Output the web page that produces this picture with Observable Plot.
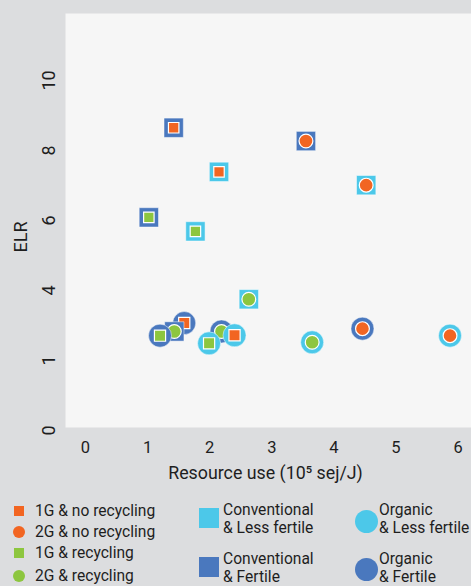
<!DOCTYPE html>
<html><head><meta charset="utf-8">
<script src="https://cdn.jsdelivr.net/npm/d3@7"></script>
<script src="https://cdn.jsdelivr.net/npm/@observablehq/plot@0.6"></script>
<style>
body{margin:0;background:#dcdddf;font-family:Roboto,sans-serif;color:#222;}
#wrap{position:relative;width:471px;height:586px;overflow:hidden;background:#dcdddf;}
#chart svg{display:block;}
.sw{position:absolute;box-sizing:border-box;}
.lt{position:absolute;font-size:15.6px;line-height:18px;white-space:nowrap;color:#1e1e1e;}
</style></head><body>
<div id="wrap"><div id="chart"></div><div id="legend"></div></div>
<script>
// ---- data ----
const farming = ["Conventional","Conventional","Conventional","Conventional","Conventional","Conventional","Conventional","Organic","Conventional","Organic","Organic","Organic","Organic","Organic","Organic","Organic"];
const fertility = ["Fertile","Fertile","Less fertile","Less fertile","Fertile","Less fertile","Less fertile","Fertile","Fertile","Fertile","Fertile","Less fertile","Less fertile","Less fertile","Fertile","Less fertile"];
const generation = ["1G","2G","1G","2G","1G","1G","2G","1G","2G","1G","2G","1G","1G","2G","2G","2G"];
const recycling = ["no recycling","no recycling","no recycling","no recycling","recycling","recycling","recycling","no recycling","recycling","recycling","recycling","recycling","no recycling","recycling","no recycling","no recycling"];
const resourceUse = [1.42, 3.55, 2.15, 4.52, 1.02, 1.77, 2.63, 1.59, 1.43, 1.20, 2.19, 1.99, 2.40, 3.65, 4.46, 5.87];
const elr = [8.65, 8.27, 7.39, 7.01, 6.09, 5.69, 3.75, 3.07, 2.83, 2.71, 2.83, 2.49, 2.72, 2.52, 2.91, 2.71];

const xTicks = [0,1,2,3,4,5,6];
const yTicks = [0,2,4,6,8,10];
const yTickLabels = ["0","1","4","6","8","10"];
const xTitle = "Resource use (10⁵ sej/J)";
const yTitle = "ELR";

const colorKeys = ["Less fertile","Fertile","no recycling","recycling"];
const colorRange = ["#4cc8e9","#4a78be","#f26522","#8dc63f"];

const scenarioLabels = ["1G & no recycling","2G & no recycling","1G & recycling","2G & recycling"];
const systemLabels = [["Conventional","& Less fertile"],["Organic","& Less fertile"],["Conventional","& Fertile"],["Organic","& Fertile"]];

// ---- chart ----
const idx = d3.range(resourceUse.length);
const pointMarks = idx.flatMap(i => [
  Plot.dot([i], {
    x: j => resourceUse[j], y: j => elr[j],
    symbol: j => farming[j],
    fill: j => fertility[j],
    r: j => farming[j] === "Conventional" ? 10.9 : 11.5,
    stroke: "white", strokeWidth: 0.6, strokeOpacity: 0.8
  }),
  Plot.dot([i], {
    x: j => resourceUse[j], y: j => elr[j],
    symbol: j => generation[j],
    fill: j => recycling[j],
    r: j => generation[j] === "1G" ? (farming[j] === "Organic" ? 6.3 : 5.9) : 6.9,
    stroke: "white", strokeWidth: 1.2
  })
]);

const chart = Plot.plot({
  width: 471, height: 490,
  marginTop: 13, marginBottom: 63, marginLeft: 65, marginRight: 0,
  style: {background: "transparent", fontFamily: "Roboto, sans-serif", color: "#1e1e1e"},
  x: {domain: [0, 6], range: [85, 457.6]},
  y: {domain: [0, 12], range: [430, 10]},
  color: {domain: colorKeys, range: colorRange},
  symbol: {domain: ["Conventional","Organic","1G","2G"], range: ["square","circle","square","circle"]},
  r: {type: "identity"},
  marks: [
    Plot.frame({fill: "#f6f6f6", stroke: null}),
    Plot.axisX({ticks: xTicks, tickFormat: d => String(d), tickSize: 0, tickPadding: 14, fontSize: 16.5, label: null}),
    Plot.axisY({ticks: yTicks, tickFormat: d => yTickLabels[yTicks.indexOf(d)], tickSize: 0, tickPadding: 16,
      rotate: -90, textAnchor: "middle", fontSize: 18, label: null}),
    Plot.text([xTitle], {text: d => d, frameAnchor: "bottom", dy: 51, dx: -3, fontSize: 17.8}),
    Plot.text([yTitle], {text: d => d, frameAnchor: "left", dx: -44, dy: 32, rotate: -90, fontSize: 18}),
    ...pointMarks
  ]
});
document.getElementById("chart").appendChild(chart);

// ---- legend (HTML below the SVG) ----
const lg = document.getElementById("legend");
function add(el){ lg.appendChild(el); }
function sw(left, top, w, h, color, round){
  const d = document.createElement("div"); d.className = "sw";
  Object.assign(d.style, {left: left+"px", top: top+"px", width: w+"px", height: h+"px", background: color, borderRadius: round ? "50%" : "0"});
  add(d);
}
function txt(left, top, lines){
  const d = document.createElement("div"); d.className = "lt";
  d.style.left = left+"px"; d.style.top = top+"px";
  d.innerHTML = lines.map(s => s.replace(/&/g,"&amp;")).join("<br>");
  add(d);
}
const scenColors = [colorRange[2], colorRange[2], colorRange[3], colorRange[3]];
const scenRound = [false, true, false, true];
const scenY = [511, 532, 553, 576];
scenarioLabels.forEach((s, i) => {
  const sz = scenRound[i] ? 12 : 10;
  sw(19 - sz/2, scenY[i] - sz/2, sz, sz, scenColors[i], scenRound[i]);
  txt(35, scenY[i] - 9, [s]);
});
// systems
sw(199, 508, 20, 20, colorRange[0], false);
txt(223, 501, systemLabels[0]);
sw(199, 557, 20, 20, colorRange[1], false);
txt(223, 550, systemLabels[2]);
sw(354.5, 509.5, 23, 23, colorRange[0], true);
txt(379, 501, systemLabels[1]);
sw(354.5, 557.5, 23, 23, colorRange[1], true);
txt(379, 550, systemLabels[3]);
</script>
</body></html>
